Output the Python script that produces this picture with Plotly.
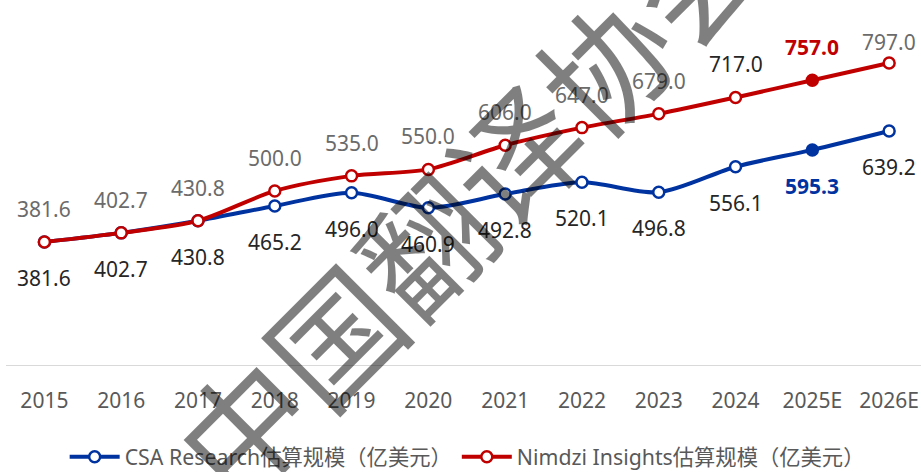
import plotly.graph_objects as go

years = ["2015", "2016", "2017", "2018", "2019", "2020", "2021", "2022", "2023", "2024", "2025E", "2026E"]
csa_values = [381.6, 402.7, 430.8, 465.2, 496.0, 460.9, 492.8, 520.1, 496.8, 556.1, 595.3, 639.2]
nimdzi_values = [381.6, 402.7, 430.8, 500.0, 535.0, 550.0, 606.0, 647.0, 679.0, 717.0, 757.0, 797.0]
csa_name = "CSA Research估算规模（亿美元）"
nimdzi_name = "Nimdzi Insights估算规模（亿美元）"
highlight_year = "2025E"
watermark = "中国翻译协会"

BLUE = "#0033A0"
RED = "#C00000"
GRAY = "#6b6b6b"
DARK = "#262626"
FONT = "Noto Sans, Noto Sans CJK SC, sans-serif"

W, H = 921, 472
ML, MR, MT, MB = 6, 0, 30, 107
Y0, Y1 = 96.0, 873.6
X0, X1 = -0.5, 11.415
plot_h = H - MT - MB
px_per_unit = plot_h / (Y1 - Y0)

fig = go.Figure()

def marker_fill(color):
    return [color if y == highlight_year else "white" for y in years]

fig.add_trace(go.Scatter(
    x=years, y=csa_values, name=csa_name, mode="lines+markers",
    line=dict(color=BLUE, width=4, shape="spline", smoothing=0.8),
    marker=dict(size=11, color=marker_fill(BLUE), line=dict(color=BLUE, width=2.5)),
))
fig.add_trace(go.Scatter(
    x=years, y=nimdzi_values, name=nimdzi_name, mode="lines+markers",
    line=dict(color=RED, width=4, shape="spline", smoothing=0.8),
    marker=dict(size=11, color=marker_fill(RED), line=dict(color=RED, width=2.5)),
))

annotations = []
for i, (yr, v) in enumerate(zip(years, nimdzi_values)):
    dist_top = (Y1 - v) * px_per_unit
    shift = min(33, dist_top - 12)
    if yr == highlight_year:
        txt, col = f"<b>{v:.1f}</b>", RED
    elif yr == "2024":
        txt, col = f"{v:.1f}", DARK
    else:
        txt, col = f"{v:.1f}", GRAY
    annotations.append(dict(x=i, y=v, xref="x", yref="y", text=txt, showarrow=False,
                            yshift=shift, font=dict(size=21, color=col, family=FONT)))
for i, (yr, v) in enumerate(zip(years, csa_values)):
    if yr == highlight_year:
        txt, col = f"<b>{v:.1f}</b>", BLUE
    else:
        txt, col = f"{v:.1f}", DARK
    annotations.append(dict(x=i, y=v, xref="x", yref="y", text=txt, showarrow=False,
                            yshift=-36, font=dict(size=21, color=col, family=FONT)))

annotations.append(dict(x=0.504, y=0.50, xref="paper", yref="paper", text=watermark,
                        showarrow=False, textangle=-45, xanchor="center", yanchor="middle",
                        font=dict(size=128, color="rgba(0,0,0,0.5)",
                                  family="Noto Sans CJK SC")))

fig.update_layout(
    width=W, height=H,
    margin=dict(l=ML, r=MR, t=MT, b=MB, autoexpand=False),
    paper_bgcolor="white", plot_bgcolor="white",
    font=dict(family=FONT, color="#595959", size=21),
    xaxis=dict(type="category", range=[X0, X1], showgrid=False, zeroline=False,
               automargin=False,
               showline=True, linecolor="#d9d9d9", linewidth=1,
               ticks="outside", ticklen=17, tickcolor="rgba(0,0,0,0)",
               tickfont=dict(size=21, color="#595959")),
    yaxis=dict(range=[Y0, Y1], visible=False, showgrid=False, zeroline=False,
               automargin=False),
    showlegend=True,
    legend=dict(orientation="h", x=0.504, xanchor="center", y=-0.2746, yanchor="middle",
                font=dict(size=21.3, color="#595959", family=FONT),
                itemwidth=50, traceorder="normal"),
    annotations=annotations,
)

fig.write_html("out.html", config={"displayModeBar": False},
               post_script="document.body.style.margin='0';document.body.style.overflow='hidden';")
